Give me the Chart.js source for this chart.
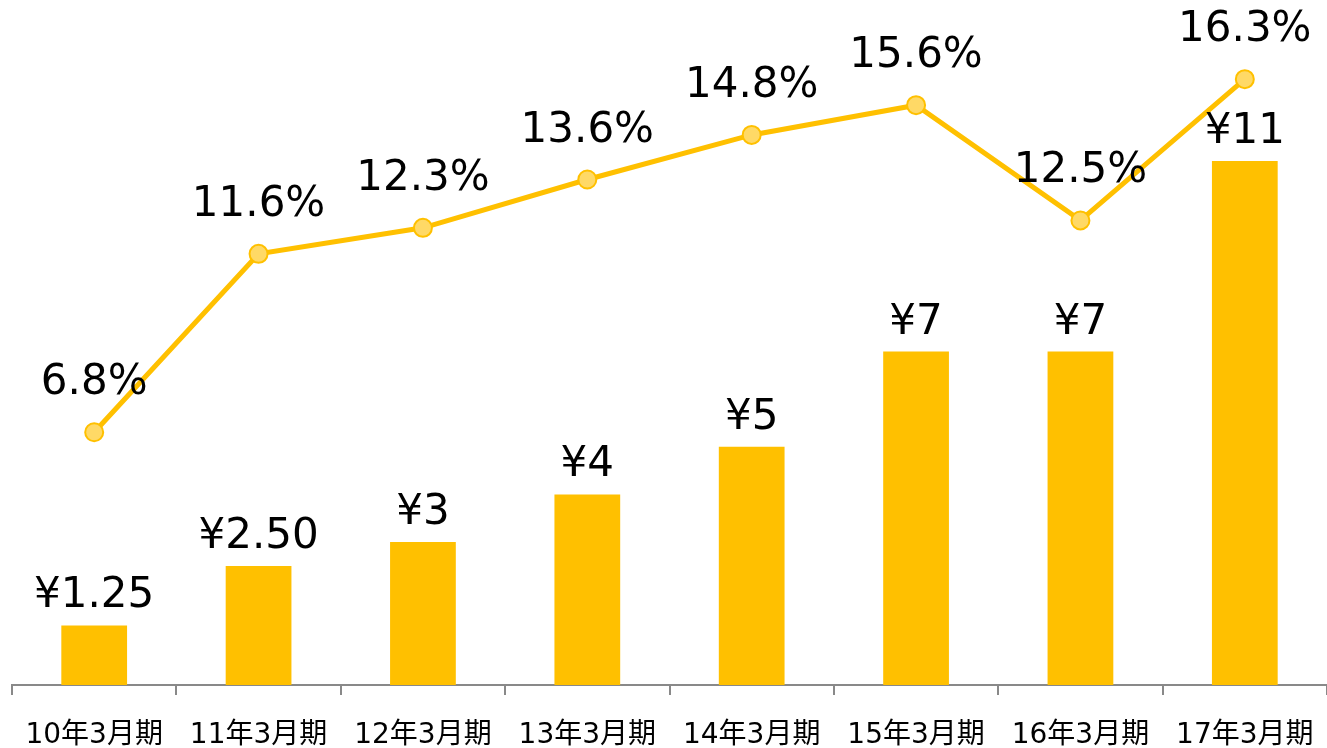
<!DOCTYPE html>
<html>
<head>
<meta charset="utf-8">
<script src="https://cdn.jsdelivr.net/npm/chart.js@4"></script>
<style>
  html, body { margin: 0; padding: 0; background: #fff; }
  #wrap { width: 1327px; height: 748px; }
</style>
</head>
<body>
<div id="wrap"><canvas id="dividendChart"></canvas></div>
<script>
// data
const periods = ['10年3月期', '11年3月期', '12年3月期', '13年3月期', '14年3月期', '15年3月期', '16年3月期', '17年3月期'];
const dividends = [1.25, 2.5, 3, 4, 5, 7, 7, 11];
const payoutRates = [6.8, 11.6, 12.3, 13.6, 14.8, 15.6, 12.5, 16.3];

const gold = '#FFC000';
const labelFont = '42px "DejaVu Sans", "Noto Sans CJK JP", sans-serif';

function yen(v) {
  return '¥' + (Number.isInteger(v) ? v : v.toFixed(2));
}

// draws value labels above the bars and points
const valueLabels = {
  id: 'valueLabels',
  afterDatasetsDraw(chart) {
    const ctx = chart.ctx;
    ctx.save();
    ctx.font = labelFont;
    ctx.fillStyle = '#000';
    ctx.textAlign = 'center';
    ctx.textBaseline = 'alphabetic';
    chart.getDatasetMeta(1).data.forEach(function (bar, i) {
      ctx.fillText(yen(dividends[i]), bar.x, bar.y - 18);
    });
    chart.getDatasetMeta(0).data.forEach(function (pt, i) {
      ctx.fillText(payoutRates[i].toFixed(1) + '%', pt.x, pt.y - 38);
    });
    ctx.restore();
  }
};

let ctx = document.getElementById('dividendChart').getContext('2d');

let chart = new Chart(ctx, {
  type: 'bar',
  data: {
    labels: periods,
    datasets: [{
      type: 'line',
      data: payoutRates,
      yAxisID: 'yRate',
      borderColor: gold,
      borderWidth: 5,
      pointRadius: 9,
      pointBackgroundColor: '#FFD966',
      pointBorderColor: gold,
      pointBorderWidth: 2,
      tension: 0,
      fill: false,
      clip: false
    }, {
      type: 'bar',
      data: dividends,
      yAxisID: 'yDiv',
      backgroundColor: gold,
      categoryPercentage: 1,
      barPercentage: 0.4
    }]
  },
  options: {
    responsive: true,
    maintainAspectRatio: false,
    animation: false,
    layout: { autoPadding: false, padding: { left: 12, right: 0, top: 0, bottom: 0 } },
    plugins: {
      legend: { display: false },
      tooltip: { enabled: false }
    },
    scales: {
      x: {
        offset: true,
        grid: {
          offset: true,
          drawOnChartArea: false,
          drawTicks: true,
          tickLength: 10,
          color: '#898989',
          lineWidth: 2
        },
        border: { display: true, color: '#898989', width: 2 },
        ticks: {
          color: '#000',
          padding: 24,
          maxRotation: 0,
          autoSkip: false,
          font: { family: '"DejaVu Sans", "Noto Sans CJK JP", sans-serif', size: 28 }
        },
        afterFit: function (axis) {
          axis.height = 63;
          axis.paddingLeft = 0;
          axis.paddingRight = 0;
        }
      },
      yDiv: {
        display: false,
        min: 0,
        max: 14.38
      },
      yRate: {
        display: false,
        min: 0,
        max: 18.43
      }
    }
  },
  plugins: [valueLabels]
});
</script>
</body>
</html>
